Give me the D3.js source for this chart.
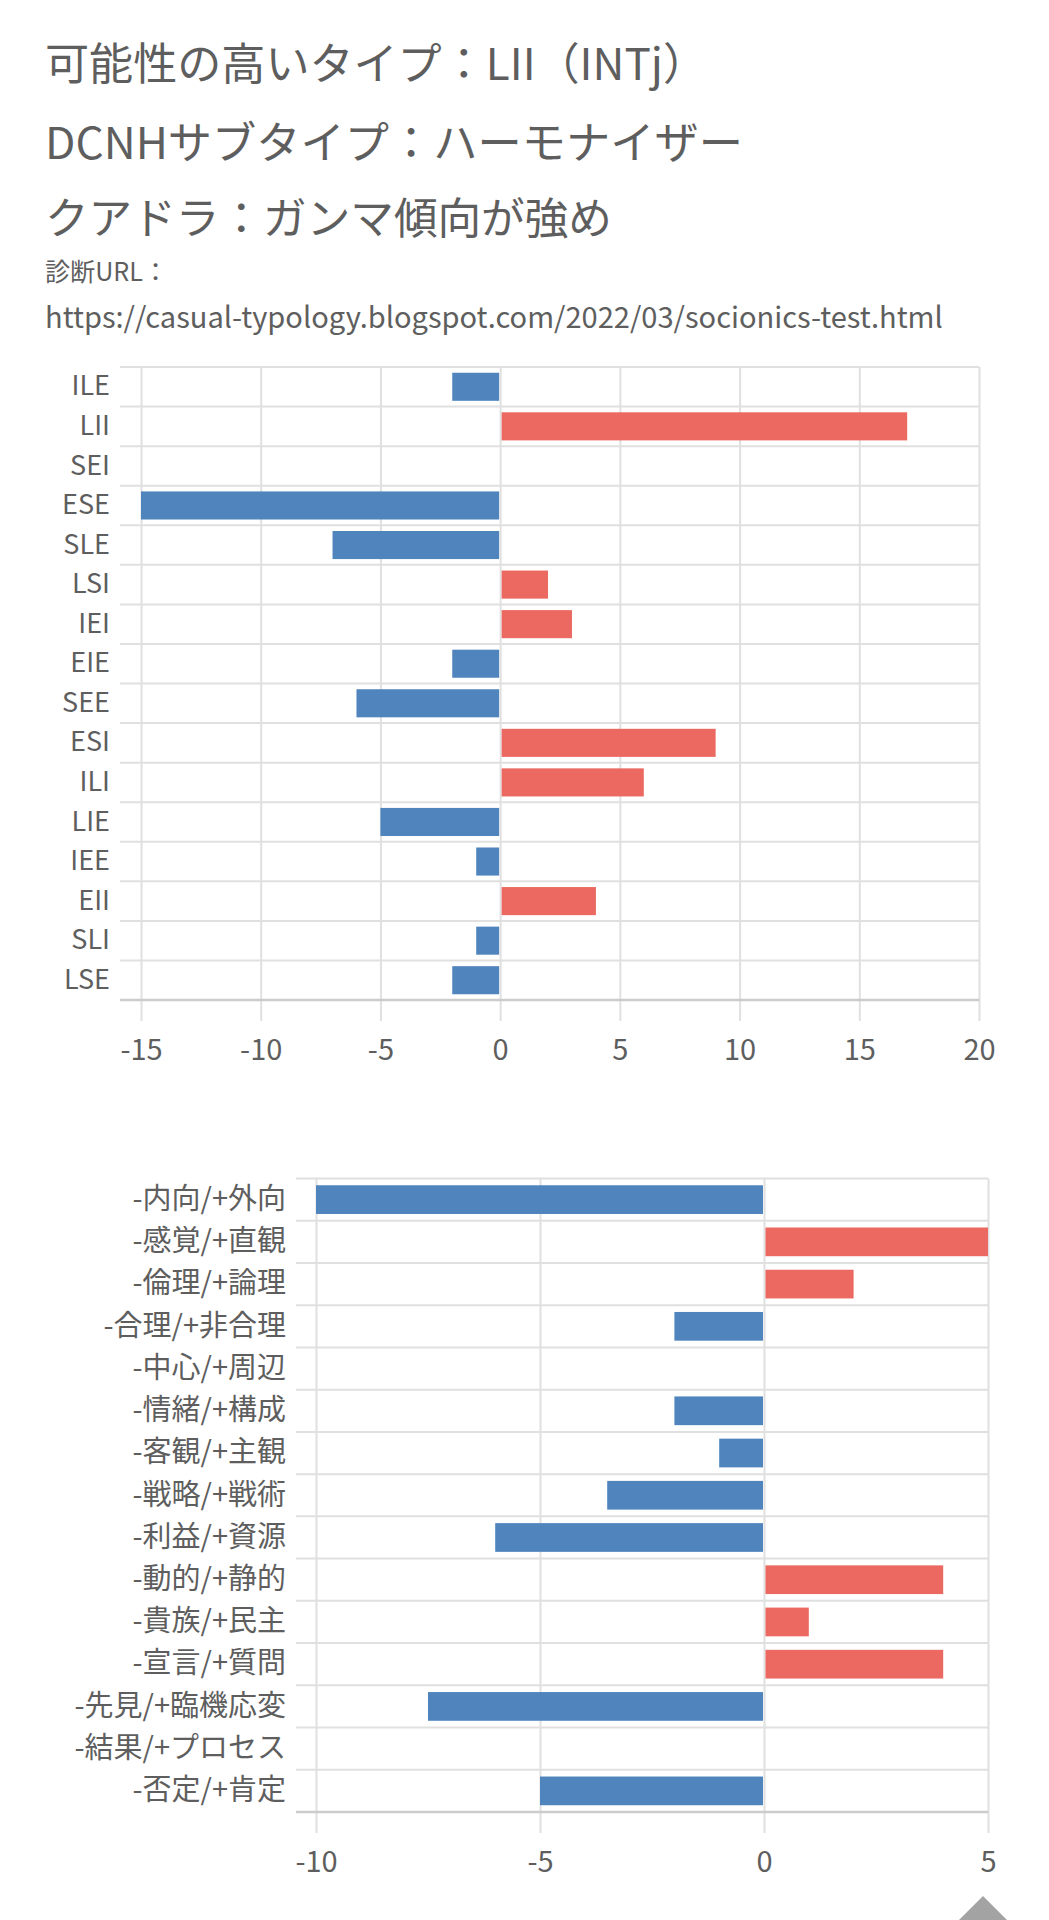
<!DOCTYPE html>
<html lang="ja">
<head>
<meta charset="UTF-8" />
<title>LII socionics result</title>
<script src="https://cdn.jsdelivr.net/npm/d3@7"></script>
<style>
  body { margin: 0; background: #fff; }
  svg { display: block; }
  text { font-family: "Noto Sans CJK JP", "Noto Sans", sans-serif; }
</style>
</head>
<body>
<svg id="svg" width="1049" height="1920"></svg>
<script>
  // header text
  const titleLines = [
    "可能性の高いタイプ：LII（INTj）",
    "DCNHサブタイプ：ハーモナイザー",
    "クアドラ：ガンマ傾向が強め"
  ];
  const urlLabel = "診断URL：";
  const urlText = "https://casual-typology.blogspot.com/2022/03/socionics-test.html";

  // chart 1: the 16 types
  const types = ["ILE", "LII", "SEI", "ESE", "SLE", "LSI", "IEI", "EIE",
                 "SEE", "ESI", "ILI", "LIE", "IEE", "EII", "SLI", "LSE"];
  const typeScores = [-2, 17, 0, -15, -7, 2, 3, -2, -6, 9, 6, -5, -1, 4, -1, -2];
  const typeTicks = [-15, -10, -5, 0, 5, 10, 15, 20];

  // chart 2: Reinin dichotomies
  const dichotomies = ["-内向/+外向", "-感覚/+直観", "-倫理/+論理", "-合理/+非合理",
                       "-中心/+周辺", "-情緒/+構成", "-客観/+主観", "-戦略/+戦術",
                       "-利益/+資源", "-動的/+静的", "-貴族/+民主", "-宣言/+質問",
                       "-先見/+臨機応変", "-結果/+プロセス", "-否定/+肯定"];
  const dichotomyScores = [-10, 5, 2, -2, 0, -2, -1, -3.5, -6, 4, 1, 4, -7.5, 0, -5];
  const dichotomyTicks = [-10, -5, 0, 5];

  const blue = "#5084bd";
  const red = "#eb6960";
  const gridColor = "#e0e0e0";
  const axisColor = "#cccccc";
  const textColor = "#5e5e5e";

  const svg = d3.select("#svg");

  // fit a text to a width by changing its font size
  function fitText(t, width) {
    const fs = parseFloat(t.attr("font-size"));
    const w = t.node().getComputedTextLength();
    t.attr("font-size", (fs * width / w).toFixed(2));
  }

  const head = svg.append("g").attr("fill", textColor);
  const titleY = [64, 143, 218];
  const titleW = [662, 698, 567];
  titleLines.forEach((s, i) => {
    const t = head.append("text")
      .attr("x", 45)
      .attr("y", titleY[i])
      .attr("dy", "0.36em")
      .attr("font-size", 43)
      .text(s);
    fitText(t, titleW[i]);
  });
  fitText(head.append("text").attr("x", 45).attr("y", 272).attr("dy", "0.36em")
    .attr("font-size", 24).text(urlLabel), 123);
  fitText(head.append("text").attr("x", 45).attr("y", 318).attr("dy", "0.36em")
    .attr("font-size", 27).text(urlText), 898);

  function drawChart(cfg) {
    const g = svg.append("g");
    const x = d3.scaleLinear().domain(cfg.domain).range([cfg.left, cfg.right]);
    const y = d3.scaleBand().domain(cfg.cats).range([cfg.top, cfg.bottom]);
    const bw = y.bandwidth();
    const inset = bw * cfg.inset;

    // horizontal row lines
    g.append("g").selectAll("line")
      .data(cfg.cats)
      .join("line")
      .attr("x1", cfg.lineStart)
      .attr("x2", cfg.right)
      .attr("y1", d => y(d))
      .attr("y2", d => y(d))
      .attr("stroke", gridColor)
      .attr("stroke-width", 2);

    // vertical grid + tick labels (plain hyphen for minus, like the original)
    const ax = g.append("g")
      .attr("transform", `translate(0,${cfg.bottom + 21})`)
      .call(d3.axisBottom(x).tickValues(cfg.ticks).tickFormat(d => String(d))
        .tickSize(-(cfg.bottom + 21 - cfg.top)).tickSizeOuter(0));
    ax.select(".domain").remove();
    ax.selectAll("line").attr("stroke", gridColor).attr("stroke-width", 2);
    ax.selectAll("text")
      .attr("y", cfg.tickY - cfg.bottom - 21)
      .attr("dy", "0.36em")
      .attr("fill", textColor)
      .attr("font-size", 29)
      .attr("font-family", "'Noto Sans CJK JP', sans-serif");

    // bottom axis line
    g.append("line")
      .attr("x1", cfg.lineStart)
      .attr("x2", cfg.right)
      .attr("y1", cfg.bottom)
      .attr("y2", cfg.bottom)
      .attr("stroke", axisColor)
      .attr("stroke-width", 2.5);

    // bars
    g.append("g").selectAll("rect")
      .data(cfg.values.map((v, i) => ({ cat: cfg.cats[i], v })).filter(d => d.v !== 0))
      .join("rect")
      .attr("x", d => d.v < 0 ? x(d.v) : x(0) + 1.5)
      .attr("width", d => d.v < 0 ? x(0) - x(d.v) - 1 : x(d.v) - x(0) - 1.5)
      .attr("y", d => y(d.cat) + inset)
      .attr("height", bw - 2 * inset)
      .attr("fill", d => d.v < 0 ? blue : red);

    // category labels
    const ay = g.append("g")
      .attr("transform", `translate(${cfg.labelRight},0)`)
      .call(d3.axisLeft(y).tickSize(0).tickPadding(0));
    ay.select(".domain").remove();
    ay.selectAll("text")
      .attr("fill", textColor)
      .attr("font-size", cfg.labelSize)
      .attr("font-family", "'Noto Sans CJK JP', sans-serif");
  }

  drawChart({
    cats: types, values: typeScores, ticks: typeTicks, domain: [-15, 20],
    left: 141, right: 979, top: 367, bottom: 1000, lineStart: 120,
    labelRight: 110, labelSize: 27, tickY: 1050, inset: 0.145
  });

  drawChart({
    cats: dichotomies, values: dichotomyScores, ticks: dichotomyTicks, domain: [-10, 5],
    left: 316, right: 988, top: 1178.5, bottom: 1812, lineStart: 296,
    labelRight: 286, labelSize: 29, tickY: 1862, inset: 0.16
  });

  // page "back to top" button, cut off at the bottom edge
  svg.append("path")
    .attr("d", "M983,1896 L956,1923 L1010,1923 Z")
    .attr("fill", "#a3a3a3");
</script>
</body>
</html>
